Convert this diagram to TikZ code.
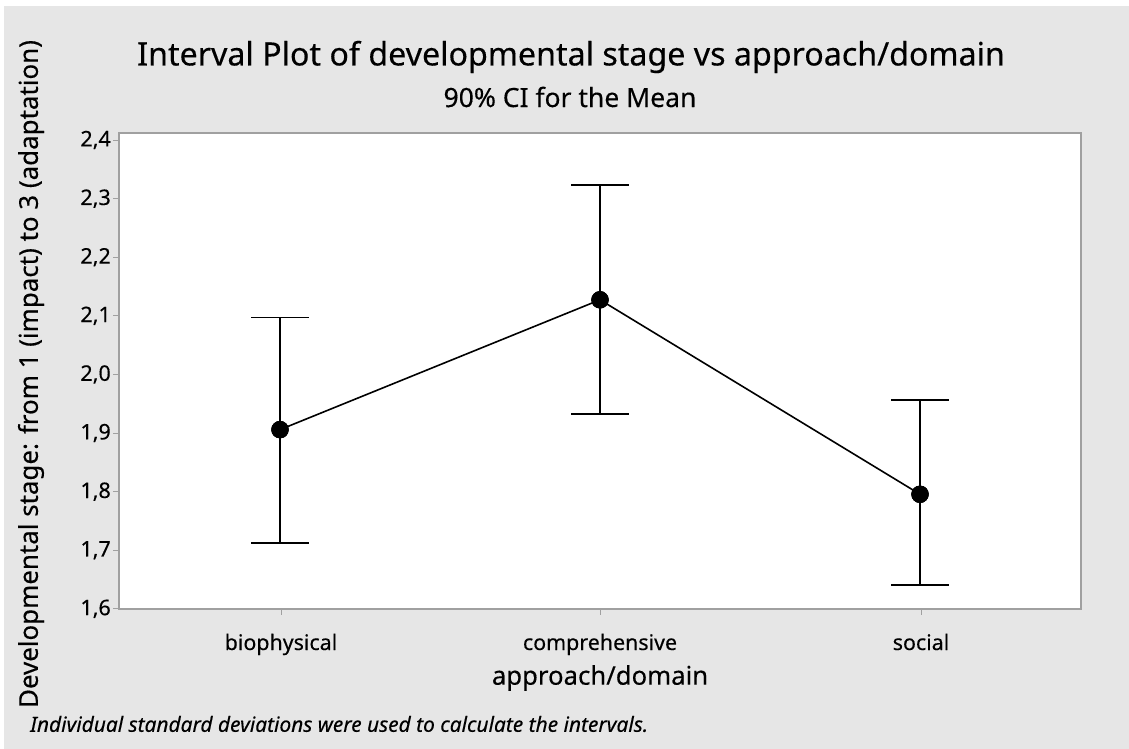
\documentclass[tikz,border=0pt]{standalone}
\usepackage{fontspec}
\setmainfont{Noto Sans}[FakeBold=0.3]
\usepackage{tikz}
\usetikzlibrary{positioning}

\definecolor{panelgray}{HTML}{E6E6E6}
\definecolor{framegray}{HTML}{A0A0A0}

\begin{document}
\begin{tikzpicture}[x=1pt,y=-1pt,
    meandot/.style={draw,circle,fill=black,inner sep=0pt,minimum size=17pt},
    bar/.style={line width=1.8pt},
    axtick/.style={framegray,line width=1pt},
    ticklab/.style={font=\fontsize{21.5}{24}\selectfont,anchor=east,inner sep=0pt}]
  \fill[white] (0,0) rectangle (1129,749);
  \useasboundingbox (0,0) rectangle (1129,749);
  \fill[panelgray] (4,6) rectangle (1129,749);
  % plot area
  \fill[white] (119,133) rectangle (1081,609);
  \draw[framegray,line width=1.5pt] (119,133) rectangle (1081,609);
  % titles
  \node (title) at (571,57) {\fontsize{32.2}{36}\selectfont Interval Plot of developmental stage vs approach/domain};
  \node (subtitle) at (570,97) {\fontsize{26.5}{30}\selectfont 90\% CI for the Mean};
  % y axis
  \foreach \lab [count=\i from 0] in {{2,4},{2,3},{2,2},{2,1},{2,0},{1,9},{1,8},{1,7},{1,6}} {
    \draw[axtick] (113,140+58.6*\i) -- (119,140+58.6*\i);
    \node[ticklab] (ylab\i) at (111,140+58.6*\i) {\lab};
  }
  \node[rotate=90] (ylabel) at (31,374) {\fontsize{25.9}{30}\selectfont Developmental stage: from 1 (impact) to 3 (adaptation)};
  % x axis
  \foreach \x/\name/\lab in {281/bioname/biophysical,600/compname/comprehensive,921/socname/social} {
    \draw[axtick] (\x,609) -- (\x,615);
    \node[anchor=base] (\name) at (\x,650) {\fontsize{21.4}{24}\selectfont \lab};
  }
  \node (xlabel) at (600,678) {\fontsize{25.7}{30}\selectfont approach/domain};
  \node[anchor=west,inner sep=0pt] (note) at (30,724) {\fontsize{20.9}{24}\selectfont\itshape Individual standard deviations were used to calculate the intervals.};
  % intervals
  \begin{scope}[y=587.5pt,yshift=-1550pt]
    \coordinate (biohi) at (280,2.098);
    \coordinate (biolo) at (280,1.714);
    \coordinate (comphi) at (600,2.323);
    \coordinate (complo) at (600,1.933);
    \coordinate (sochi) at (920,1.957);
    \coordinate (soclo) at (920,1.642);
    \node[meandot] (bio) at (280,1.907) {};
    \node[meandot] (comp) at (600,2.128) {};
    \node[meandot] (soc) at (920,1.797) {};
  \end{scope}
  \foreach \g in {bio,comp,soc} {
    \draw[bar] (\g lo) -- (\g hi);
    \draw[bar] ([xshift=-29pt]\g hi) -- ([xshift=29pt]\g hi);
    \draw[bar] ([xshift=-29pt]\g lo) -- ([xshift=29pt]\g lo);
  }
  \draw[line width=1.6pt] (bio.center) -- (comp.center) -- (soc.center);
  \foreach \g in {bio,comp,soc} \node[meandot] at (\g) {};
\end{tikzpicture}
\end{document}
